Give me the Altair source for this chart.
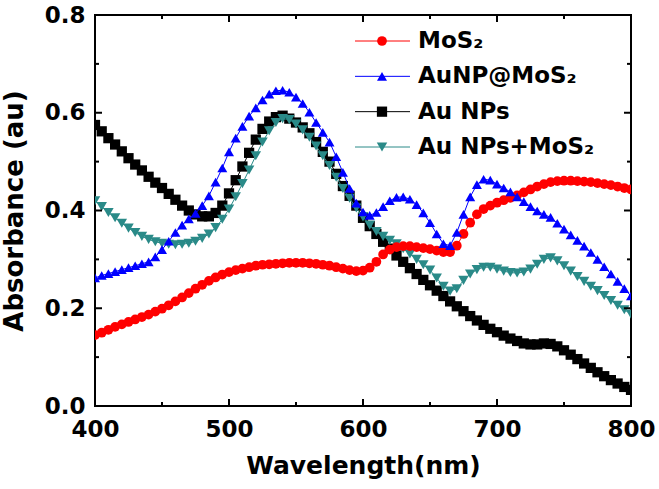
import altair as alt
import pandas as pd

wavelength = list(range(400, 801, 5))

mos2 = [
    0.145, 0.150, 0.156, 0.162, 0.167, 0.172, 0.177, 0.182, 0.187, 0.193,
    0.199, 0.206, 0.214, 0.222, 0.231, 0.240, 0.248, 0.256, 0.263, 0.269,
    0.274, 0.278, 0.281, 0.284, 0.287, 0.289, 0.290, 0.291, 0.292, 0.293,
    0.293, 0.293, 0.292, 0.291, 0.289, 0.287, 0.284, 0.281, 0.278, 0.276,
    0.277, 0.283, 0.295, 0.310, 0.320, 0.325, 0.327, 0.327, 0.325, 0.323,
    0.321, 0.318, 0.315, 0.315, 0.328, 0.352, 0.375, 0.392, 0.403, 0.410,
    0.416, 0.421, 0.426, 0.431, 0.437, 0.443, 0.449, 0.454, 0.458, 0.460,
    0.461, 0.461, 0.460, 0.459, 0.458, 0.456, 0.454, 0.452, 0.449, 0.446,
    0.443,
]
aunp_at_mos2 = [
    0.262, 0.267, 0.271, 0.275, 0.279, 0.283, 0.287, 0.291, 0.295, 0.305,
    0.320, 0.337, 0.355, 0.370, 0.383, 0.394, 0.410, 0.430, 0.458, 0.487,
    0.520, 0.548, 0.572, 0.593, 0.610, 0.626, 0.638, 0.645, 0.646, 0.642,
    0.632, 0.619, 0.601, 0.580, 0.560, 0.540, 0.510, 0.478, 0.445, 0.415,
    0.397, 0.390, 0.396, 0.408, 0.420, 0.427, 0.428, 0.423, 0.412, 0.395,
    0.375, 0.352, 0.332, 0.328, 0.355, 0.392, 0.428, 0.453, 0.464, 0.462,
    0.454, 0.446, 0.438, 0.428, 0.418, 0.408, 0.399, 0.392, 0.386, 0.374,
    0.362, 0.350, 0.339, 0.327, 0.314, 0.300, 0.285, 0.270, 0.255, 0.240,
    0.225,
]
au_nps = [
    0.575, 0.562, 0.548, 0.535, 0.521, 0.507, 0.494, 0.482, 0.469, 0.457,
    0.446, 0.434, 0.422, 0.410, 0.400, 0.392, 0.388, 0.388, 0.395, 0.410,
    0.435, 0.462, 0.490, 0.518, 0.545, 0.567, 0.582, 0.591, 0.594, 0.588,
    0.580, 0.570, 0.558, 0.540, 0.520, 0.500, 0.475, 0.450, 0.430, 0.410,
    0.385, 0.368, 0.352, 0.336, 0.322, 0.308, 0.295, 0.282, 0.270, 0.258,
    0.247, 0.236, 0.225, 0.214, 0.204, 0.194, 0.184, 0.175, 0.166, 0.158,
    0.151, 0.144, 0.138, 0.133, 0.128, 0.126, 0.126, 0.128, 0.127, 0.122,
    0.114, 0.105, 0.096, 0.087, 0.078, 0.069, 0.061, 0.053, 0.046, 0.039,
    0.033,
]
au_nps_plus_mos2 = [
    0.420, 0.408, 0.396, 0.385, 0.374, 0.364, 0.355, 0.347, 0.341, 0.336,
    0.333, 0.331, 0.330, 0.331, 0.333, 0.337, 0.343, 0.352, 0.365, 0.382,
    0.403, 0.428, 0.455, 0.483, 0.512, 0.540, 0.563, 0.580, 0.588, 0.586,
    0.577, 0.565, 0.550, 0.532, 0.512, 0.492, 0.468, 0.445, 0.425, 0.405,
    0.387, 0.370, 0.357, 0.347, 0.339, 0.332, 0.322, 0.311, 0.300, 0.289,
    0.278, 0.262, 0.245, 0.235, 0.240, 0.257, 0.270, 0.279, 0.284, 0.284,
    0.280, 0.276, 0.273, 0.272, 0.274, 0.280, 0.290, 0.300, 0.303, 0.297,
    0.287, 0.276, 0.265, 0.255, 0.245, 0.236, 0.226, 0.216, 0.206, 0.197,
    0.188,
]

series_names = ["MoS₂", "AuNP@MoS₂", "Au NPs", "Au NPs+MoS₂"]
series_values = [mos2, aunp_at_mos2, au_nps, au_nps_plus_mos2]
series_colors = ["#FF0000", "#0000FF", "#000000", "#2A8A88"]
series_shapes = ["circle", "triangle-up", "square", "triangle-down"]
series_sizes = [95, 110, 70, 110]
draw_order = ["Au NPs", "Au NPs+MoS₂", "MoS₂", "AuNP@MoS₂"]

x_major = [400, 500, 600, 700, 800]
x_minor = [450, 550, 650, 750]
y_major = [0.0, 0.2, 0.4, 0.6, 0.8]
y_minor = [0.1, 0.3, 0.5, 0.7]

rows = []
for name, vals in zip(series_names, series_values):
    for w, v in zip(wavelength, vals):
        rows.append({"series": name, "wavelength": w, "absorbance": v})
df = pd.DataFrame(rows)
legend_df = pd.DataFrame({"series": series_names})

W, H = 536, 391
FONT = "DejaVu Sans"

xs = alt.Scale(domain=[400, 800], nice=False, zero=False)
ys = alt.Scale(domain=[0, 0.8], nice=False, zero=False)
color_scale = alt.Scale(domain=series_names, range=series_colors)
shape_scale = alt.Scale(domain=series_names, range=series_shapes)
size_scale = alt.Scale(domain=series_names, range=series_sizes)

layers = []

# data layers
for name in draw_order:
    base = alt.Chart(df).transform_filter(alt.datum.series == name)
    enc = dict(
        x=alt.X("wavelength:Q", scale=xs, axis=None),
        y=alt.Y("absorbance:Q", scale=ys, axis=None),
        color=alt.Color("series:N", scale=color_scale, legend=None),
    )
    layers.append(base.mark_line(strokeWidth=1, clip=True).encode(**enc))
    layers.append(
        base.mark_point(filled=True, opacity=1, clip=True).encode(
            shape=alt.Shape("series:N", scale=shape_scale, legend=None),
            size=alt.Size("series:N", scale=size_scale, legend=None),
            **enc,
        )
    )

# labelled axes
layers.append(alt.Chart(df).mark_line(strokeOpacity=0, clip=True).encode(
    x=alt.X("wavelength:Q", scale=xs, axis=alt.Axis(
        orient="bottom", values=x_major, format="d", ticks=False, tickSize=0,
        domain=False, grid=False, labelFontSize=23, labelPadding=12,
        labelFlush=False, title="Wavelength(nm)", titleFontSize=25, titlePadding=12)),
    y=alt.Y("absorbance:Q", scale=ys, axis=alt.Axis(
        orient="left", values=y_major, format=".1f", ticks=False, tickSize=0,
        domain=False, grid=False, labelFontSize=23, labelPadding=10,
        labelFlush=False, title="Absorbance (au)", titleFontSize=26, titlePadding=17)),
    detail="series:N",
))

# inward ticks on all four sides, placed through the scales
for vals, length in [(x_major, 7), (x_minor, 4)]:
    tdf = pd.DataFrame({"v": vals})
    tx = alt.X("v:Q", scale=xs, axis=None)
    layers.append(alt.Chart(tdf).mark_rule(strokeWidth=2, color="black").encode(
        x=tx, y=alt.value(H), y2=alt.value(H - length)))
    layers.append(alt.Chart(tdf).mark_rule(strokeWidth=2, color="black").encode(
        x=tx, y=alt.value(0), y2=alt.value(length)))
for vals, length in [(y_major, 7), (y_minor, 4)]:
    tdf = pd.DataFrame({"v": vals})
    ty = alt.Y("v:Q", scale=ys, axis=None)
    layers.append(alt.Chart(tdf).mark_rule(strokeWidth=2, color="black").encode(
        y=ty, x=alt.value(0), x2=alt.value(length)))
    layers.append(alt.Chart(tdf).mark_rule(strokeWidth=2, color="black").encode(
        y=ty, x=alt.value(W), x2=alt.value(W - length)))

# legend drawn inside the plot
ly = alt.Y("series:N", scale=alt.Scale(domain=series_names, range=[26, 132], type="point", padding=0), axis=None)
lc = alt.Color("series:N", scale=color_scale, legend=None)
legend_base = alt.Chart(legend_df)
layers.append(legend_base.mark_rule(strokeWidth=1).encode(
    x=alt.value(260), x2=alt.value(315), y=ly, color=lc))
layers.append(legend_base.mark_point(filled=True, opacity=1).encode(
    x=alt.value(287), y=ly, color=lc,
    shape=alt.Shape("series:N", scale=shape_scale, legend=None),
    size=alt.Size("series:N", scale=size_scale, legend=None)))
layers.append(legend_base.mark_text(align="left", baseline="middle", font=FONT, fontSize=23,
                                    fontWeight="bold", color="black").encode(
    x=alt.value(323), y=ly, text="series:N"))

chart = (
    alt.layer(*layers)
    .resolve_scale(y="independent")
    .resolve_axis(x="independent", y="independent")
    .properties(
        width=W, height=H,
        autosize=alt.AutoSizeParams(type="none"),
        padding={"left": 95, "top": 15, "right": 28, "bottom": 83},
        background="white",
    )
    .configure_view(stroke="black", strokeWidth=2)
    .configure_axis(labelFont=FONT, labelFontWeight="bold", labelColor="black",
                    titleFont=FONT, titleFontWeight="bold", titleColor="black")
)

chart.save("out.html", embed_options={"renderer": "svg", "actions": False})
